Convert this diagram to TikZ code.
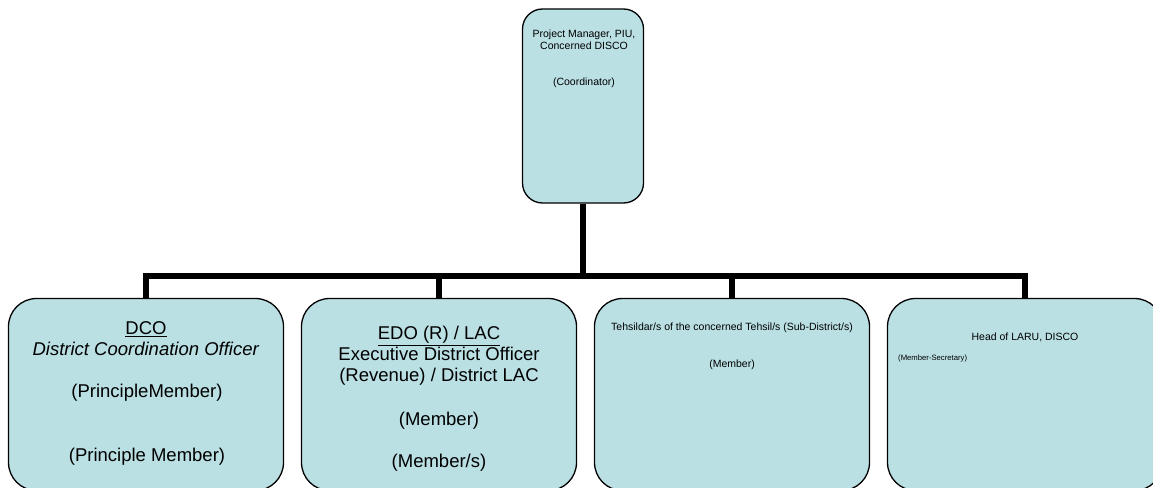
\documentclass[tikz,border=0pt]{standalone}
\usepackage{fontspec}
\setmainfont{Liberation Sans}
\usepackage{tikz}
\definecolor{boxfill}{RGB}{186,224,228}

\begin{document}
\begin{tikzpicture}[x=1pt, y=-1pt,
		top_style/.style={rectangle,rounded corners=20pt,draw=black,line width=1.3pt,fill=boxfill,minimum width=121pt,minimum height=194pt,inner sep=0pt},
		box_style/.style={rectangle,rounded corners=28pt,draw=black,line width=1.3pt,fill=boxfill,minimum width=275pt,minimum height=192pt,inner sep=0pt},
		big_text/.style={anchor=base,inner sep=0pt,font=\fontsize{18.5}{21}\selectfont},
		mid_text/.style={anchor=base,inner sep=0pt,font=\fontsize{10.5}{12}\selectfont},
		tiny_text/.style={anchor=base west,inner sep=0pt,font=\fontsize{7.7}{9}\selectfont},
		edge_style/.style={draw=black,line width=6pt}]

		\useasboundingbox (0,0) rectangle (1153,487);
		\clip (0,0) rectangle (1153,487);

		% boxes
		\node[top_style] (top) at (583,106)  {};
		\node[box_style] (b1) at (146,394.5)  {};
		\node[box_style] (b2) at (439,394.5)  {};
		\node[box_style] (b3) at (732,394.5)  {};
		\node[box_style] (b4) at (1025,394.5)  {};

		% connectors
		\draw[edge_style]  (top.south) -- ++(0,72) -| (b1.north);
		\draw[edge_style]  (top.south) -- ++(0,72) -| (b2.north);
		\draw[edge_style]  (top.south) -- ++(0,72) -| (b3.north);
		\draw[edge_style]  (top.south) -- ++(0,72) -| (b4.north);

		% texts
		\node[mid_text] (t0a) at (584,37.3)  {Project Manager, PIU,};
		\node[mid_text] (t0b) at (584,49.3)  {Concerned DISCO};
		\node[mid_text] (t0c) at (584,85.7)  {(Coordinator)};

		\node[big_text] (t1a) at (146,334.5)  {\underline{DCO}};
		\node[big_text] (t1b) at (146,355.5)  {\textit{District Coordination Officer}};
		\node[big_text] (t1c) at (147,397.5)  {(PrincipleMember)};
		\node[big_text] (t1d) at (147,461)  {(Principle Member)};

		\node[big_text] (t2a) at (439,339.5)  {\underline{EDO (R) / LAC}};
		\node[big_text] (t2b) at (439,360.5)  {Executive District Officer};
		\node[big_text] (t2c) at (439,381.5)  {(Revenue) / District LAC};
		\node[big_text] (t2d) at (439,425)  {(Member)};
		\node[big_text] (t2e) at (439,467)  {(Member/s)};

		\node[mid_text] (t3a) at (732,330.5)  {Tehsildar/s of the concerned Tehsil/s (Sub-District/s)};
		\node[mid_text] (t3b) at (732,367.5)  {(Member)};

		\node[mid_text] (t4a) at (1025,340.5)  {Head of LARU, DISCO};
		\node[tiny_text] (t4b) at (898,360)  {(Member-Secretary)};

		\end{tikzpicture}
\end{document}
